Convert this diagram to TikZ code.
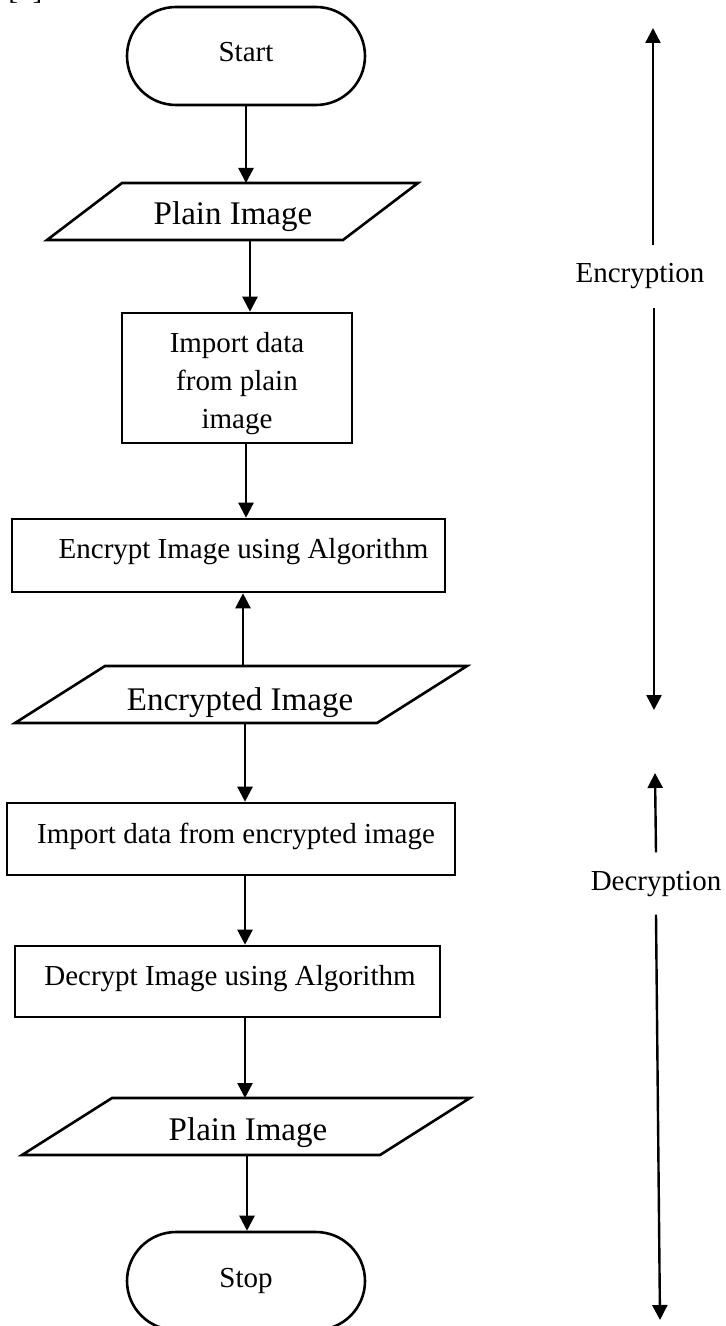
\documentclass[tikz,border=0pt]{standalone}
\usepackage{fontspec}
\setmainfont{Liberation Serif}
\usetikzlibrary{arrows.meta,calc,shapes.misc}
\tikzset{
  ln/.style={line width=1.3pt},
  arr/.style={line width=1.2pt,-{Triangle[length=7.5pt,width=7.5pt]}},
  boxshape/.style={draw,ln,rectangle,inner sep=0pt},
  term/.style={draw,ln,rounded rectangle,inner sep=0pt,minimum width=119pt,minimum height=49pt},
  iobox/.style={rectangle,inner sep=0pt,outer sep=0pt},
  txt/.style={anchor=base,inner sep=0pt,font=\fontsize{14.5}{19}\selectfont},
  bigtxt/.style={anchor=base,inner sep=0pt,font=\fontsize{16.5}{20}\selectfont},
  lab/.style={anchor=base,inner xsep=0pt,inner ysep=9pt,font=\fontsize{14.5}{19}\selectfont}
}
\newcommand\drawpara[2]{\draw[ln] (#1.south west) -- ($(#1.south east)+(-#2,0)$) -- (#1.north east) -- ($(#1.north west)+(#2,0)$) -- cycle;}
\begin{document}
\begin{tikzpicture}[x=0.5pt,y=-0.5pt]
\clip (0,0) rectangle (726,1326);
\fill[white] (0,0) rectangle (726,1326);
\node[txt,anchor=base west] (ref) at (8,0) {[3]};
% terminals
\node[term] (start) at (246,56) {};
\node[txt] (tstart) at (246,62) {Start};
\node[term] (stop) at (246,1281) {};
\node[txt] (tstop) at (246,1287) {Stop};
% parallelograms
\node[iobox,minimum width=185.5pt,minimum height=28.5pt] (p1) at (232.5,211.5) {};
\drawpara{p1}{75}
\node[bigtxt] (tp1) at (233,225) {Plain Image};
\node[iobox,minimum width=226pt,minimum height=28.5pt] (ei) at (241,694.5) {};
\drawpara{ei}{90}
\node[bigtxt] (tei) at (240,710) {Encrypted Image};
\node[iobox,minimum width=224pt,minimum height=28.5pt] (p2) at (246,1126.5) {};
\drawpara{p2}{90}
\node[bigtxt] (tp2) at (248,1140) {Plain Image};
% boxes
\node[boxshape,minimum width=115pt,minimum height=65pt] (b1) at (237,378) {};
\node[txt,align=center] (tb1) at (237,428) {Import data\\from plain\\image};
\node[boxshape,minimum width=216.5pt,minimum height=36.5pt] (b2) at (228.5,555.5) {};
\node[txt] (tb2) at (243.5,558) {Encrypt Image using Algorithm};
\node[boxshape,minimum width=224pt,minimum height=36pt] (b3) at (231,839) {};
\node[txt] (tb3) at (236,843) {Import data from encrypted image};
\node[boxshape,minimum width=212.5pt,minimum height=35.5pt] (b4) at (227.5,981.5) {};
\node[txt] (tb4) at (230,985) {Decrypt Image using Algorithm};
% arrow x positions
\coordinate (x1) at (246,0);
\coordinate (x2) at (250,0);
\coordinate (x3) at (246,0);
\coordinate (x4) at (243,0);
\coordinate (x5) at (245,0);
\coordinate (x6) at (245,0);
\coordinate (x7) at (245,0);
\coordinate (x8) at (247,0);
\draw[arr] (x1 |- start.south) -- (x1 |- p1.north);
\draw[arr] (x2 |- p1.south) -- (x2 |- b1.north);
\draw[arr] (x3 |- b1.south) -- (x3 |- b2.north);
\draw[arr] (x4 |- ei.north) -- (x4 |- b2.south);
\draw[arr] (x5 |- ei.south) -- (x5 |- b3.north);
\draw[arr] (x6 |- b3.south) -- (x6 |- b4.north);
\draw[arr] (x7 |- b4.south) -- (x7 |- p2.north);
\draw[arr] (x8 |- p2.south) -- (x8 |- stop.north);
% side labels
\node[lab] (enc) at (640,283) {Encryption};
\coordinate (encTop) at (653,28);
\coordinate (encBot) at (654,710);
\draw[arr] (encTop |- enc.north) -- (encTop);
\draw[arr] (encBot |- enc.south) -- (encBot);
\node[lab] (dec) at (656,890) {Decryption};
\coordinate (decTop) at (655,773);
\coordinate (decBot) at (660,1320);
\draw[arr] (dec.north) -- (decTop);
\draw[arr] (dec.south) -- (decBot);
\end{tikzpicture}
\end{document}
